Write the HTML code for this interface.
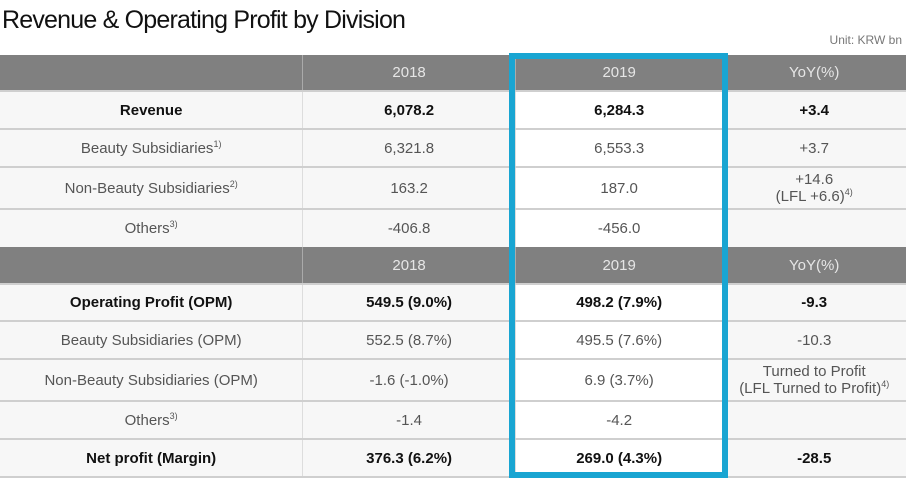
<!DOCTYPE html>
<html><head><meta charset="utf-8"><style>
body{margin:0;width:910px;height:479px;background:#fff;font-family:"Liberation Sans",sans-serif;overflow:hidden;position:relative}
.t{position:absolute;left:2px;top:6px;font-size:25px;color:#111;letter-spacing:-0.8px}
.u{position:absolute;right:8px;top:33px;font-size:12px;color:#777}
.r{position:absolute;left:0;width:906px;display:flex;border-bottom:2px solid #cfcfcf;box-sizing:border-box}
.c{display:flex;align-items:center;justify-content:center;text-align:center;font-size:15px;color:#555;line-height:17px;background:#f7f7f7}
.c1{width:303px;border-right:1px solid #ddd}.c2{width:212px;border-right:1px solid #ddd}.c3{width:207px;background:#fff}.c4{width:184px}
.h .c{background:#808080;color:#e6e6e6;font-size:15px}
.h .c1,.h .c2{border-right:1px solid #aaa}
.b .c{color:#111;font-weight:bold}
sup{font-size:9px;vertical-align:6px;line-height:0}
.box{position:absolute;left:509px;top:53px;width:219px;height:425px;border:6px solid #19a5d2;box-sizing:border-box}
</style></head><body>
<div class="t">Revenue &amp; Operating Profit by Division</div>
<div class="u">Unit: KRW bn</div>
<div class="r h" style="top:55px;height:37px"><div class="c c1"></div><div class="c c2">2018</div><div class="c c3" style="background:#808080">2019</div><div class="c c4">YoY(%)</div></div>
<div class="r b" style="top:92px;height:38px"><div class="c c1">Revenue</div><div class="c c2">6,078.2</div><div class="c c3">6,284.3</div><div class="c c4">+3.4</div></div>
<div class="r" style="top:130px;height:38px"><div class="c c1"><span>Beauty Subsidiaries<sup>1)</sup></span></div><div class="c c2">6,321.8</div><div class="c c3">6,553.3</div><div class="c c4">+3.7</div></div>
<div class="r" style="top:168px;height:42px"><div class="c c1"><span>Non-Beauty Subsidiaries<sup>2)</sup></span></div><div class="c c2">163.2</div><div class="c c3">187.0</div><div class="c c4"><span>+14.6<br>(LFL +6.6)<sup>4)</sup></span></div></div>
<div class="r" style="top:210px;height:37px;border-bottom:none"><div class="c c1"><span>Others<sup>3)</sup></span></div><div class="c c2">-406.8</div><div class="c c3">-456.0</div><div class="c c4"></div></div>
<div class="r h" style="top:247px;height:38px"><div class="c c1"></div><div class="c c2">2018</div><div class="c c3" style="background:#808080">2019</div><div class="c c4">YoY(%)</div></div>
<div class="r b" style="top:285px;height:37px"><div class="c c1">Operating Profit (OPM)</div><div class="c c2">549.5 (9.0%)</div><div class="c c3">498.2 (7.9%)</div><div class="c c4">-9.3</div></div>
<div class="r" style="top:322px;height:38px"><div class="c c1">Beauty Subsidiaries (OPM)</div><div class="c c2">552.5 (8.7%)</div><div class="c c3">495.5 (7.6%)</div><div class="c c4">-10.3</div></div>
<div class="r" style="top:360px;height:42px"><div class="c c1">Non-Beauty Subsidiaries (OPM)</div><div class="c c2">-1.6 (-1.0%)</div><div class="c c3">6.9 (3.7%)</div><div class="c c4"><span>Turned to Profit<br>(LFL Turned to Profit)<sup>4)</sup></span></div></div>
<div class="r" style="top:402px;height:38px"><div class="c c1"><span>Others<sup>3)</sup></span></div><div class="c c2">-1.4</div><div class="c c3">-4.2</div><div class="c c4"></div></div>
<div class="r b" style="top:440px;height:38px"><div class="c c1">Net profit (Margin)</div><div class="c c2">376.3 (6.2%)</div><div class="c c3">269.0 (4.3%)</div><div class="c c4">-28.5</div></div>
<div class="box"></div>
</body></html>
